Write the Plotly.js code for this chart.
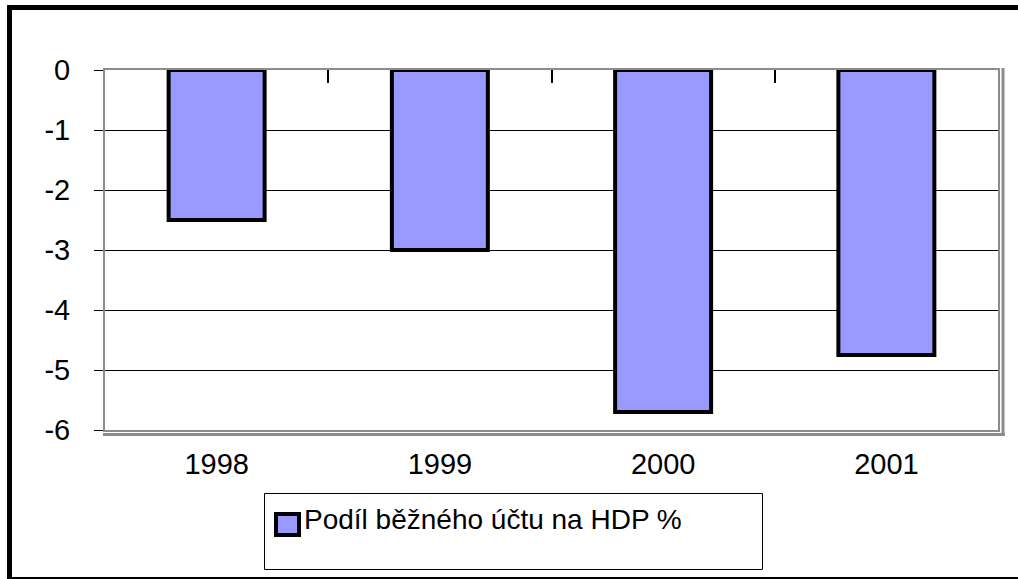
<!DOCTYPE html>
<html>
<head>
<meta charset="utf-8">
<script src="https://cdn.plot.ly/plotly-3.0.1.min.js"></script>
<style>
  html, body { margin: 0; padding: 0; background: #fff; }
  #wrap { position: relative; width: 1018px; height: 579px; overflow: hidden; }
  #chart { position: absolute; left: 0; top: 0; width: 1018px; height: 579px; }
  #frame { position: absolute; left: 7px; top: 5px; width: 1100px; height: 577px;
           box-sizing: border-box; border: 5px solid #000; pointer-events: none; }
</style>
</head>
<body>
<div id="wrap">
  <div id="chart"></div>
  <div id="frame"></div>
</div>
<script>
const years = ['1998', '1999', '2000', '2001'];
const shareCA = [-2.5, -3.0, -5.7, -4.75];
const seriesName = 'Podíl běžného účtu na HDP %';
const yTickVals = [0, -1, -2, -3, -4, -5, -6];
const yTickText = ['0', '-1', '-2', '-3', '-4', '-5', '-6'];

const FONT = 'Liberation Sans, Arial, sans-serif';
const BAR_FILL = '#9999FF';
const FRAME = '#8c8c8c';

// plot geometry (px) used to place decorations in paper coords
const L = 105, R = 20, T = 70, B = 149, W = 1018, H = 579;
const PW = W - L - R, PH = H - T - B;
const px = v => (v - L) / PW;
const py = v => (H - B - v) / PH;

const trace = {
  type: 'bar',
  x: years,
  y: shareCA,
  name: seriesName,
  width: 0.43,
  marker: { color: BAR_FILL, line: { color: '#000', width: 4 } },
  showlegend: false,
  hoverinfo: 'x+y'
};

// same categories on the top (crossing) category axis, only to carry its tick marks
const axisCarrier = {
  type: 'scatter',
  mode: 'markers',
  x: years,
  y: shareCA,
  xaxis: 'x2',
  yaxis: 'y',
  marker: { opacity: 0, size: 1 },
  showlegend: false,
  hoverinfo: 'skip'
};

const layout = {
  width: W, height: H,
  margin: { l: L, r: R, t: T, b: B, pad: 0 },
  paper_bgcolor: 'rgba(0,0,0,0)',
  plot_bgcolor: '#fff',
  font: { family: FONT, color: '#000', size: 29 },
  showlegend: false,
  xaxis: {
    type: 'category',
    range: [-0.5, 3.5],
    showgrid: false,
    zeroline: false,
    showline: true, linecolor: FRAME, linewidth: 2, mirror: true,
    ticks: '',
    ticklabelstandoff: 7,
    tickfont: { family: FONT, size: 29, color: '#000' },
    fixedrange: true
  },
  xaxis2: {
    type: 'category',
    overlaying: 'x',
    side: 'top',
    anchor: 'y',
    range: [-0.5, 3.5],
    tickson: 'boundaries',
    ticks: 'inside', ticklen: 13, tickcolor: '#000', tickwidth: 2,
    showticklabels: false,
    showgrid: false, zeroline: false, showline: false,
    fixedrange: true
  },
  yaxis: {
    range: [-6, 0],
    tickvals: yTickVals,
    ticktext: yTickText,
    ticks: 'outside', ticklen: 9, tickcolor: '#000', tickwidth: 1,
    ticklabelstandoff: 18,
    showgrid: true, gridcolor: '#000', gridwidth: 1,
    zeroline: false,
    showline: true, linecolor: FRAME, linewidth: 2, mirror: true,
    tickfont: { family: FONT, size: 29, color: '#000' },
    fixedrange: true
  },
  shapes: [
    // plot-area shadow (bottom and right)
    { type: 'line', xref: 'paper', yref: 'paper', layer: 'above',
      x0: px(103), x1: px(1005), y0: py(434.5), y1: py(434.5),
      line: { color: FRAME, width: 3 } },
    { type: 'line', xref: 'paper', yref: 'paper', layer: 'above',
      x0: px(1003), x1: px(1003), y0: py(68), y1: py(436),
      line: { color: FRAME, width: 3 } },
    // legend box
    { type: 'rect', xref: 'paper', yref: 'paper', layer: 'above',
      x0: px(264.5), x1: px(762.5), y0: py(569.5), y1: py(493.5),
      line: { color: '#000', width: 1 }, fillcolor: '#fff' },
    // legend symbol
    { type: 'rect', xref: 'paper', yref: 'paper', layer: 'above',
      x0: px(276), x1: px(299), y0: py(535), y1: py(514),
      line: { color: '#000', width: 4 }, fillcolor: BAR_FILL }
  ],
  annotations: [
    { xref: 'paper', yref: 'paper', x: px(302), y: py(519),
      xanchor: 'left', yanchor: 'middle', showarrow: false,
      text: seriesName, font: { family: FONT, size: 28, color: '#000' } }
  ]
};

Plotly.newPlot('chart', [trace, axisCarrier], layout, { displayModeBar: false, staticPlot: true });
</script>
</body>
</html>
